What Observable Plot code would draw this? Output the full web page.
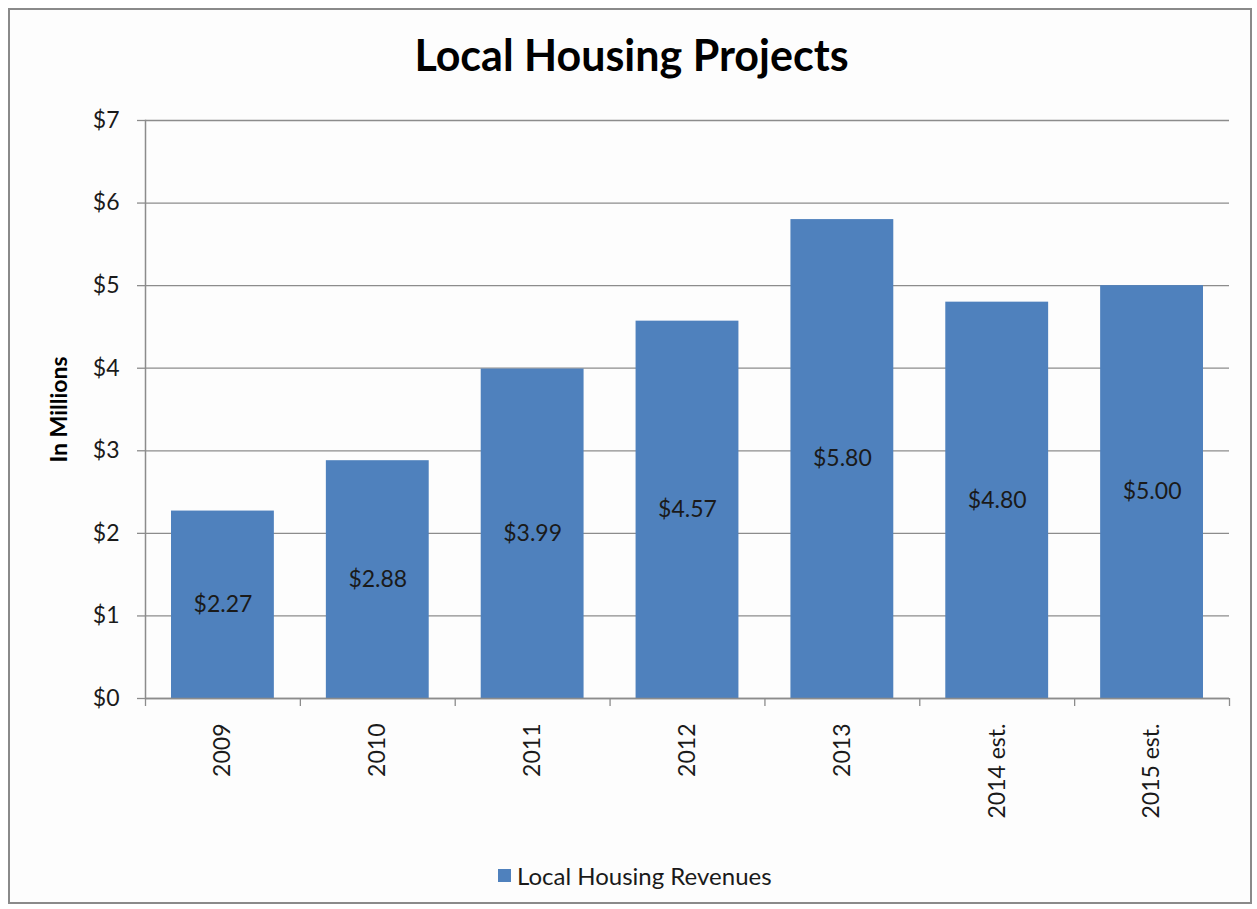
<!DOCTYPE html>
<html>
<head>
<meta charset="utf-8">
<script src="https://cdn.jsdelivr.net/npm/d3@7"></script>
<script src="https://cdn.jsdelivr.net/npm/@observablehq/plot@0.6"></script>
<style>
  html, body { margin: 0; padding: 0; background: #fff; }
  #wrap { position: relative; width: 1257px; height: 909px; font-family: Lato, "Open Sans", sans-serif; background: #fff; }
  #frame { position: absolute; left: 8px; top: 8px; width: 1244px; height: 896px; border: 2px solid #8a8a8a; box-sizing: border-box; background: #fdfdfd; }
  #title { position: absolute; left: 0; width: 1263px; top: 29px; text-align: center; font-size: 43px; font-weight: bold; color: #000; line-height: 1.2; }
  #chart { position: absolute; left: 0; top: 0; }
  #legend { position: absolute; left: 498px; top: 861px; height: 29px; font-size: 24px; color: #1a1a1a; display: flex; align-items: center; }
  #legend .sw { width: 13px; height: 13px; background: #4F81BD; margin-right: 6px; }
</style>
</head>
<body>
<div id="wrap">
  <div id="frame"></div>
  <div id="chart"></div>
  <div id="title">Local Housing Projects</div>
  <div id="legend"><div class="sw"></div><span id="legendText"></span></div>
</div>
<script>
const categories = ["2009", "2010", "2011", "2012", "2013", "2014 est.", "2015 est."];
const revenues = [2.27, 2.88, 3.99, 4.57, 5.80, 4.80, 5.00];
const yTicks = [0, 1, 2, 3, 4, 5, 6, 7];
const seriesName = "Local Housing Revenues";

document.getElementById("legendText").textContent = seriesName;

const data = categories.map((c, i) => ({i, category: c, value: revenues[i]}));
const n = categories.length;

const chart = Plot.plot({
  width: 1257,
  height: 909,
  marginLeft: 145,
  marginRight: 28,
  marginTop: 120,
  marginBottom: 211,
  style: {background: "transparent", fontFamily: "Lato, 'Open Sans', sans-serif", color: "#1a1a1a"},
  x: {domain: [0, n]},
  y: {domain: [0, 7]},
  marks: [
    Plot.gridY(yTicks, {stroke: "#8c8c8c", strokeOpacity: 1, strokeWidth: 1.3}),
    Plot.rectY(data, {x: "i", interval: 1, y: "value", fill: "#4F81BD", insetLeft: 26, insetRight: 26}),
    Plot.ruleY([0], {stroke: "#8c8c8c", strokeWidth: 1.5}),
    Plot.frame({anchor: "left", stroke: "#8c8c8c", strokeWidth: 1.5}),
    Plot.axisY(yTicks, {tickSize: 8, tickPadding: 18, fontSize: 23, tickFormat: d => "$" + d, stroke: "#8c8c8c", strokeWidth: 1.3, label: null}),
    Plot.axisX(d3.range(n + 1), {tickSize: 8, stroke: "#8c8c8c", strokeWidth: 1.3, tickFormat: null, text: null, label: null}),
    Plot.axisX(d3.range(n).map(i => i + 0.5), {tickSize: 0, tickPadding: 25, tickRotate: -90, fontSize: 23, tickFormat: d => categories[Math.floor(d)], label: null}),
    Plot.text(data, {x: d => d.i + 0.5, y: d => d.value / 2, text: d => "$" + d.value.toFixed(2), fontSize: 23, fill: "#1a1a1a"}),
    Plot.text(["In Millions"], {frameAnchor: "left", textAnchor: "middle", dx: -86, rotate: -90, fontSize: 23, fontWeight: "bold", fill: "#000"})
  ]
});
document.getElementById("chart").appendChild(chart);
</script>
</body>
</html>
